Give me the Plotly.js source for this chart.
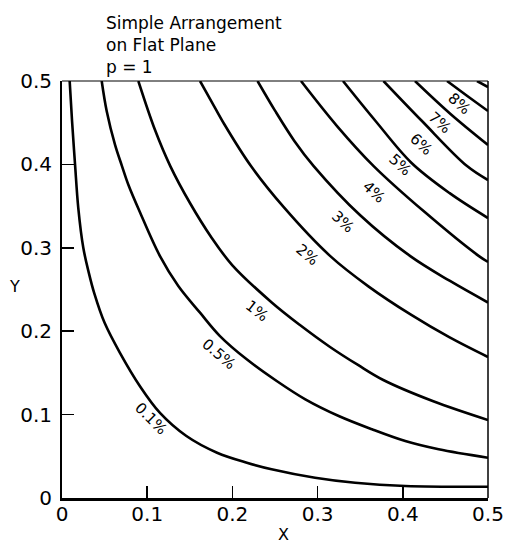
<!DOCTYPE html>
<html>
<head>
<meta charset="utf-8">
<script src="https://cdn.plot.ly/plotly-3.0.1.min.js"></script>
<style>html,body{margin:0;padding:0;background:#fff;}#chart{width:505px;height:543px;}</style>
</head>
<body>
<div id="chart"></div>
<script>
// Contour curves (X, Y)
const c01_x = [0.009, 0.0118, 0.0153, 0.0191, 0.025, 0.031, 0.038, 0.050, 0.068, 0.0915, 0.115, 0.146, 0.182, 0.217, 0.246, 0.297, 0.344, 0.403, 0.5];
const c01_y = [0.50, 0.452, 0.400, 0.348, 0.300, 0.272, 0.245, 0.210, 0.174, 0.134, 0.102, 0.0743, 0.0543, 0.0423, 0.0345, 0.0243, 0.0183, 0.0144, 0.0135];

const c05_x = [0.0466, 0.0525, 0.0622, 0.0704, 0.078, 0.091, 0.115, 0.1365, 0.162, 0.1854, 0.2168, 0.252, 0.2856, 0.3248, 0.3638, 0.4029, 0.4421, 0.5];
const c05_y = [0.500, 0.4637, 0.4236, 0.398, 0.3753, 0.3438, 0.290, 0.2542, 0.2222, 0.1942, 0.1663, 0.1403, 0.1183, 0.0983, 0.0824, 0.0683, 0.0584, 0.0483];

const c1_x = [0.0896, 0.1092, 0.1271, 0.1502, 0.175, 0.200, 0.2465, 0.2793, 0.3146, 0.3474, 0.3771, 0.4358, 0.5];
const c1_y = [0.5, 0.4412, 0.398, 0.3537, 0.313, 0.279, 0.2342, 0.2074, 0.1811, 0.1595, 0.1415, 0.1160, 0.0935];

const c2_x = [0.162, 0.176, 0.190, 0.2218, 0.260, 0.3149, 0.360, 0.410, 0.455, 0.5];
const c2_y = [0.5, 0.4745, 0.449, 0.398, 0.349, 0.290, 0.2535, 0.2195, 0.1925, 0.169];

const c3_x = [0.2295, 0.250, 0.2725, 0.2954, 0.350, 0.4088, 0.4554, 0.5];
const c3_y = [0.5, 0.4645, 0.4285, 0.398, 0.339, 0.290, 0.2602, 0.2344];

const c4_x = [0.2805, 0.3228, 0.3658, 0.4261, 0.4894, 0.5];
const c4_y = [0.5, 0.446, 0.398, 0.3425, 0.290, 0.283];

const c5_x = [0.3298, 0.368, 0.410, 0.455, 0.5];
const c5_y = [0.5, 0.452, 0.402, 0.3655, 0.3357];

const c6_x = [0.3773, 0.4225, 0.4754, 0.5];
const c6_y = [0.5, 0.452, 0.398, 0.3813];

const c7_x = [0.4143, 0.456, 0.5];
const c7_y = [0.5, 0.4605, 0.4233];

const c8_x = [0.4519, 0.4745, 0.5];
const c8_y = [0.5, 0.483, 0.464];

const c9_x = [0.4871, 0.5];
const c9_y = [0.5, 0.4928];

// Contour labels
const labelText = ['0.1%', '0.5%', '1%', '2%', '3%', '4%', '5%', '6%', '7%', '8%'];
const labelX = [0.105, 0.184, 0.229, 0.288, 0.330, 0.366, 0.397, 0.421, 0.444, 0.4665];
const labelY = [0.095, 0.173, 0.224, 0.291, 0.331, 0.367, 0.399, 0.424, 0.450, 0.472];
const labelAngle = [45, 40, 38, 40, 42, 42, 42, 42, 42, 42];

// Axis ticks
const tickVals = [0, 0.1, 0.2, 0.3, 0.4, 0.5];
const tickText = ['0', '0.1', '0.2', '0.3', '0.4', '0.5'];

const curves = [
  [c01_x, c01_y], [c05_x, c05_y], [c1_x, c1_y], [c2_x, c2_y], [c3_x, c3_y],
  [c4_x, c4_y], [c5_x, c5_y], [c6_x, c6_y], [c7_x, c7_y], [c8_x, c8_y], [c9_x, c9_y]
];

const FONT = 'DejaVu Sans, Liberation Sans, sans-serif';

const traces = curves.map(c => ({
  x: c[0], y: c[1], type: 'scatter', mode: 'lines',
  line: {color: '#000', width: 2.6, shape: 'spline', smoothing: 1},
  hoverinfo: 'skip', showlegend: false
}));

// plot area in page pixels: x 62..488, y 81..498
const PW = 426, PH = 417;
const annotations = labelText.map((t, i) => ({
  x: labelX[i], y: labelY[i], xref: 'x', yref: 'y', text: t,
  showarrow: false, textangle: labelAngle[i],
  font: {family: FONT, size: 15, color: '#000'}
}));
annotations.push({
  x: (283 - 62) / PW, y: -(534 - 498) / PH, xref: 'paper', yref: 'paper', text: 'X',
  showarrow: false, font: {family: FONT, size: 16, color: '#000'},
  xanchor: 'center', yanchor: 'middle'
});
annotations.push({
  x: (14 - 62) / PW, y: (498 - 286) / PH, xref: 'paper', yref: 'paper', text: 'Y',
  showarrow: false, font: {family: FONT, size: 16, color: '#000'},
  xanchor: 'center', yanchor: 'middle'
});
annotations.push({
  x: (104 - 62) / PW, y: (498 - 11) / PH, xref: 'paper', yref: 'paper',
  text: 'Simple Arrangement<br>on Flat Plane<br>p = 1',
  showarrow: false, align: 'left', xanchor: 'left', yanchor: 'top',
  font: {family: FONT, size: 17, color: '#000'}
});

const layout = {
  width: 505, height: 543,
  margin: {l: 62, r: 17, t: 81, b: 45, pad: 0},
  paper_bgcolor: '#fff', plot_bgcolor: '#fff',
  xaxis: {
    range: [0, 0.5], tickvals: tickVals, ticktext: tickText,
    ticks: 'inside', ticklen: 12, tickwidth: 1.5, tickcolor: '#000',
    showline: true, linewidth: 2.5, linecolor: '#000',
    showgrid: false, zeroline: false,
    tickfont: {family: FONT, size: 20, color: '#000'},
    ticklabelstandoff: -4, fixedrange: true
  },
  yaxis: {
    range: [0, 0.5], tickvals: tickVals, ticktext: tickText,
    ticks: 'inside', ticklen: 12, tickwidth: 1.5, tickcolor: '#000',
    showline: true, linewidth: 2, linecolor: '#000',
    showgrid: false, zeroline: false,
    tickfont: {family: FONT, size: 20, color: '#000'},
    ticklabelstandoff: 4, fixedrange: true
  },
  shapes: [
    {type: 'line', xref: 'paper', yref: 'paper', x0: 0, x1: 1, y0: 1, y1: 1, line: {color: '#000', width: 1}},
    {type: 'line', xref: 'paper', yref: 'paper', x0: 1, x1: 1, y0: 0, y1: 1, line: {color: '#000', width: 1.5}}
  ],
  annotations: annotations
};

Plotly.newPlot('chart', traces, layout, {staticPlot: true, displayModeBar: false});
</script>
</body>
</html>
